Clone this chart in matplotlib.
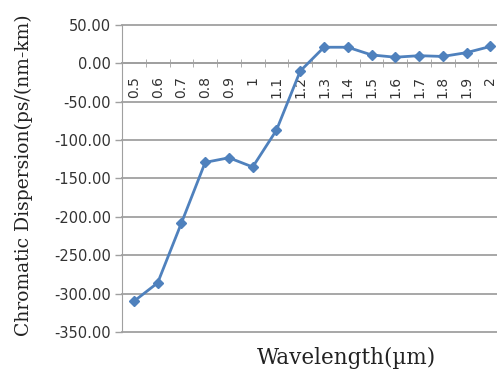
import numpy as np
import matplotlib
matplotlib.use("Agg")
import matplotlib.pyplot as plt
from matplotlib.ticker import FixedLocator

wavelengths = ["0.5", "0.6", "0.7", "0.8", "0.9", "1", "1.1", "1.2",
               "1.3", "1.4", "1.5", "1.6", "1.7", "1.8", "1.9", "2"]
dispersion = [-310, -286, -208, -129, -123, -135, -87, -10,
              21, 21, 11, 8, 10, 9, 14, 22]
y_ticks = [50, 0, -50, -100, -150, -200, -250, -300, -350]

LINE_BLUE = "#4F81BD"
GRID_GREY = "#A0A0A0"


def main():
    fig = plt.figure(figsize=(4.97, 3.74), dpi=100)
    ax = fig.add_axes([0.2455, 0.1123, 0.765, 0.8209])

    x = np.arange(len(wavelengths))
    ax.plot(x, dispersion, color=LINE_BLUE, linewidth=2.0,
            marker="D", markersize=5, zorder=3)

    ax.set_xlim(-0.5, len(wavelengths) - 0.5)
    ax.set_ylim(-350, 50)

    # y axis
    ax.set_yticks(y_ticks)
    ax.set_yticklabels([f"{v:.2f}" for v in y_ticks], fontsize=10.5,
                       family="DejaVu Sans", color="#333333")
    ax.yaxis.grid(True, color=GRID_GREY, linewidth=1.3)
    for gl in ax.get_ygridlines():
        gl.set_clip_on(False)
    ax.tick_params(axis="y", length=5, color=GRID_GREY, width=1.0, pad=3)
    ax.set_axisbelow(True)

    # x axis sits on zero, ticks between categories
    ax.spines["bottom"].set_position(("data", 0))
    ax.spines["bottom"].set_color(GRID_GREY)
    ax.spines["bottom"].set_linewidth(1.3)
    ax.spines["left"].set_color(GRID_GREY)
    ax.spines["top"].set_visible(False)
    ax.spines["right"].set_visible(False)
    ax.set_xticks(x)
    ax.set_xticklabels(wavelengths, rotation=90, fontsize=10,
                       family="DejaVu Sans", color="#333333")
    ax.xaxis.set_minor_locator(FixedLocator(np.arange(-0.5, len(wavelengths), 1.0)))
    ax.tick_params(axis="x", which="major", length=0, pad=9)
    ax.tick_params(axis="x", which="minor", length=6, direction="inout",
                   color=GRID_GREY)
    for lbl in ax.get_xticklabels():
        lbl.set_verticalalignment("top")

    fig.text(0.048, 0.532, "Chromatic Dispersion(ps/(nm-km)", rotation=90,
             ha="center", va="center", fontsize=13.5, family="DejaVu Serif",
             color="#222222")
    fig.text(0.698, 0.042, "Wavelength(\u00b5m)", ha="center", va="center",
             fontsize=15.5, family="DejaVu Serif", color="#222222")

    fig.savefig("out.png", dpi=100)


if __name__ == "__main__":
    main()
